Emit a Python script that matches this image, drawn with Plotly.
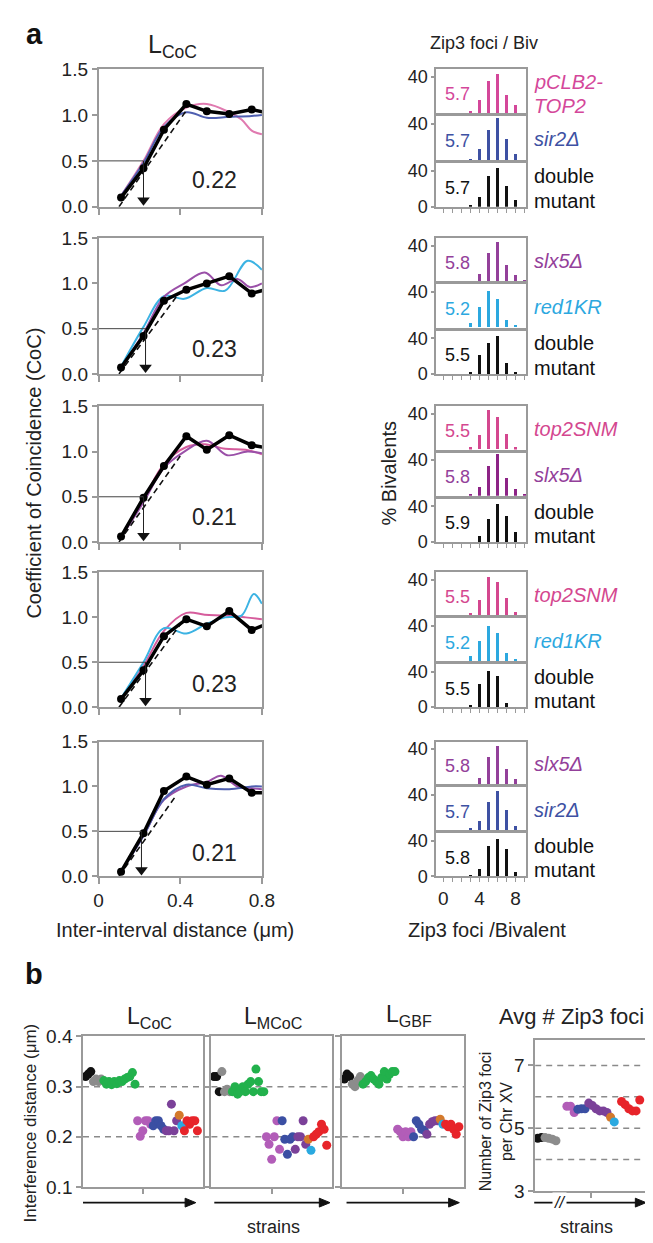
import plotly.graph_objects as go

W, H = 653, 1243
FONT = "Liberation Sans, Arial, sans-serif"

# ---------------- Panel a: CoC curves ----------------
coc_x = [0.11, 0.22, 0.32, 0.43, 0.53, 0.64, 0.75, 0.85]
coc_black = [
    [0.10, 0.42, 0.84, 1.12, 1.04, 1.01, 1.06, 1.01],
    [0.07, 0.42, 0.81, 0.93, 1.00, 1.08, 0.89, 0.95],
    [0.06, 0.49, 0.84, 1.17, 1.02, 1.18, 1.07, 1.03],
    [0.09, 0.41, 0.79, 0.98, 0.90, 1.07, 0.86, 0.95],
    [0.05, 0.48, 0.95, 1.11, 1.02, 1.09, 0.93, 0.93],
]
coc_single = [
    [("pCLB2-TOP2", [0.11, 0.22, 0.32, 0.43, 0.53, 0.64, 0.70, 0.75, 0.80],
      [0.12, 0.50, 0.90, 1.08, 1.12, 1.03, 0.95, 0.83, 0.79]),
     ("sir2Δ", [0.11, 0.22, 0.32, 0.43, 0.53, 0.64, 0.75, 0.80],
      [0.12, 0.48, 0.87, 1.03, 0.97, 0.98, 0.99, 1.00])],
    [("red1KR", [0.11, 0.22, 0.32, 0.42, 0.53, 0.62, 0.73, 0.80],
      [0.08, 0.52, 0.86, 0.83, 0.95, 0.92, 1.25, 1.15]),
     ("slx5Δ", [0.11, 0.22, 0.32, 0.42, 0.52, 0.60, 0.68, 0.74, 0.80],
      [0.07, 0.45, 0.85, 1.00, 1.12, 0.98, 1.05, 0.96, 1.00])],
    [("top2SNM", [0.11, 0.22, 0.32, 0.43, 0.52, 0.62, 0.72, 0.80],
      [0.06, 0.47, 0.86, 1.05, 1.08, 1.03, 1.02, 0.97]),
     ("slx5Δ", [0.11, 0.22, 0.32, 0.42, 0.53, 0.63, 0.73, 0.80],
      [0.05, 0.44, 0.82, 1.00, 1.12, 0.96, 1.00, 0.98])],
    [("top2SNM", [0.11, 0.22, 0.32, 0.43, 0.52, 0.62, 0.72, 0.80],
      [0.09, 0.46, 0.85, 1.05, 1.03, 1.02, 1.00, 0.98]),
     ("red1KR", [0.11, 0.22, 0.32, 0.43, 0.53, 0.62, 0.70, 0.76, 0.80],
      [0.10, 0.50, 0.88, 0.82, 0.93, 1.00, 1.02, 1.26, 1.15])],
    [("slx5Δ", [0.11, 0.22, 0.32, 0.43, 0.53, 0.60, 0.68, 0.75, 0.80],
      [0.05, 0.45, 0.85, 1.00, 1.05, 1.12, 1.00, 0.98, 0.97]),
     ("sir2Δ", [0.11, 0.22, 0.32, 0.43, 0.53, 0.64, 0.75, 0.80],
      [0.05, 0.45, 0.86, 1.02, 0.98, 0.97, 1.00, 1.00])],
]
coc_dash_x = [[0.10, 0.43], [0.10, 0.38], [0.10, 0.40], [0.10, 0.40], [0.10, 0.38]]
coc_dash_y = [[0.0, 1.05], [0.0, 0.85], [0.0, 0.95], [0.0, 0.92], [0.0, 0.90]]
coc_L = [0.22, 0.23, 0.22, 0.23, 0.21]
coc_L_text = ["0.22", "0.23", "0.21", "0.23", "0.21"]

# ---------------- Panel a: Zip3 histograms ----------------
hist_x = [3, 4, 5, 6, 7, 8, 9]
hist_labels = [["pCLB2-TOP2", "sir2Δ", "double mutant"],
               ["slx5Δ", "red1KR", "double mutant"],
               ["top2SNM", "slx5Δ", "double mutant"],
               ["top2SNM", "red1KR", "double mutant"],
               ["slx5Δ", "sir2Δ", "double mutant"]]
hist_means = [["5.7", "5.7", "5.7"], ["5.8", "5.2", "5.5"], ["5.5", "5.8", "5.9"],
              ["5.5", "5.2", "5.5"], ["5.8", "5.7", "5.8"]]
hist_vals = [
    [[2, 14, 35, 43, 20, 9, 0], [1, 12, 33, 46, 23, 6, 0], [2, 11, 34, 43, 23, 8, 0]],
    [[0, 8, 32, 44, 18, 6.5, 1], [5, 23, 41, 32, 8, 3, 0], [2.5, 22, 35, 43, 12.6, 2.5, 0]],
    [[2, 16, 44, 36, 17.6, 2, 0], [2, 10, 34, 47, 20, 8, 2.5], [0, 6.5, 26, 43, 30, 11, 0]],
    [[2, 16.6, 43, 37, 19, 3, 0], [5.4, 22, 40, 32, 9, 2.5, 0], [2, 26, 41, 35, 4, 0, 0]],
    [[0, 8, 32, 44, 18, 6.5, 1], [1.5, 10, 32, 44, 23, 4.3, 0], [1, 8, 34, 42, 30, 5, 0]],
]

# ---------------- Panel b ----------------
b_groups = ["black", "gray", "green", "magenta", "blue", "dpurple", "orange", "cyan", "red"]
b_counts = [3, 4, 13, 6, 5, 5, 1, 1, 6]
b_LCoC = [0.32, 0.325, 0.33,
          0.31, 0.315, 0.31, 0.315,
          0.312, 0.305, 0.31, 0.304, 0.31, 0.306, 0.312, 0.31, 0.315, 0.318, 0.32, 0.328, 0.305,
          0.232, 0.201, 0.212, 0.232, 0.232, 0.225,
          0.222, 0.232, 0.232, 0.222, 0.215,
          0.212, 0.212, 0.265, 0.212, 0.232,
          0.243, 0.222,
          0.212, 0.232, 0.225, 0.232, 0.232, 0.212]
b_LMCoC = [0.32, 0.32, 0.29,
           0.33, 0.29, 0.295, 0.29,
           0.29, 0.30, 0.285, 0.29, 0.30, 0.29, 0.305, 0.31, 0.29, 0.335, 0.31, 0.29, 0.29,
           0.20, 0.185, 0.155, 0.20, 0.232, 0.175,
           0.232, 0.195, 0.165, 0.195, 0.20,
           0.175, 0.20, 0.20, 0.232, 0.185,
           0.195, 0.173,
           0.20, 0.205, 0.21, 0.225, 0.215, 0.183]
b_LGBF = [0.315, 0.325, 0.32,
          0.305, 0.30, 0.312, 0.32,
          0.305, 0.31, 0.318, 0.322, 0.315, 0.31, 0.305, 0.318, 0.33, 0.315, 0.325, 0.33, 0.33,
          0.215, 0.21, 0.20, 0.21, 0.20, 0.21,
          0.20, 0.232, 0.225, 0.215, 0.213,
          0.205, 0.225, 0.23, 0.232, 0.232,
          0.235, 0.225,
          0.225, 0.22, 0.225, 0.215, 0.205, 0.22]
b_zip_groups = ["black", "gray", "magenta", "blue", "dpurple", "orange", "cyan", "red"]
b_zip_x = [[1, 2], [3, 4, 5, 6], [9, 10, 11], [12, 13, 14], [15, 16, 17, 18, 19, 20],
           [21], [22], [24, 25, 26, 27, 28, 29]]
b_zip_y = [[4.68, 4.70], [4.70, 4.68, 4.65, 4.60], [5.70, 5.70, 5.50], [5.60, 5.62, 5.62],
           [5.80, 5.72, 5.62, 5.55, 5.55, 5.50], [5.35], [5.20],
           [5.85, 5.75, 5.62, 5.55, 5.55, 5.90]]
b_ref_dist = [0.2, 0.3]
b_ref_zip = [4, 5, 6, 7]

# ---------------- styling ----------------
strain_text_col = {"pCLB2-TOP2": "#d4479a", "sir2Δ": "#3e51a3", "slx5Δ": "#93409a",
                   "red1KR": "#2ca8df", "top2SNM": "#d4478f", "double mutant": "#111111"}
strain_line_col = {"pCLB2-TOP2": "#e07ab0", "sir2Δ": "#4f5fb0", "slx5Δ": "#9a50a8",
                   "red1KR": "#3cb3e3", "top2SNM": "#d65c9c"}
dot_col = {"black": "#111111", "gray": "#8c8c8c", "green": "#22b14c", "magenta": "#b25db8",
           "blue": "#3b4fa3", "dpurple": "#7b4199", "orange": "#d4792b", "cyan": "#2aa9e0",
           "red": "#e7242a"}
FRAME = "#9a9a9a"
TXT = "#222222"

layout = {}
traces = []
annotations = []
shapes = []
n = [0]


def new_axes(xpx, ypx, xcfg, ycfg):
    n[0] += 1
    i = n[0]
    xa = "xaxis" if i == 1 else f"xaxis{i}"
    ya = "yaxis" if i == 1 else f"yaxis{i}"
    xr = "x" if i == 1 else f"x{i}"
    yr = "y" if i == 1 else f"y{i}"
    base = dict(showline=True, mirror=True, linecolor=FRAME, linewidth=1.5,
                zeroline=False, showgrid=False, fixedrange=True,
                tickfont=dict(family=FONT, size=19, color=TXT),
                tickcolor=FRAME, tickwidth=1.5)
    xd = dict(base); xd.update(xcfg)
    yd = dict(base); yd.update(ycfg)
    xd["domain"] = [xpx[0] / W, xpx[1] / W]
    yd["domain"] = [1 - ypx[1] / H, 1 - ypx[0] / H]
    xd["anchor"] = yr
    yd["anchor"] = xr
    layout[xa] = xd
    layout[ya] = yd
    return xr, yr


def text(px, py, s, size=20, color=TXT, xanchor="center", angle=0, **kw):
    annotations.append(dict(x=px / W, y=1 - py / H, xref="paper", yref="paper", text=s,
                            showarrow=False, xanchor=xanchor, yanchor="middle",
                            textangle=angle,
                            font=dict(family=FONT, size=size, color=color), **kw))


def paper_arrow(x0, x1, py):
    yy = 1 - py / H
    shapes.append(dict(type="line", xref="paper", yref="paper", x0=x0 / W, x1=(x1 - 8) / W,
                       y0=yy, y1=yy, line=dict(color="#111", width=1.6)))
    path = (f"M {(x1 - 11) / W},{1 - (py - 4.5) / H} L {x1 / W},{yy} "
            f"L {(x1 - 11) / W},{1 - (py + 4.5) / H} Z")
    shapes.append(dict(type="path", xref="paper", yref="paper", path=path,
                       fillcolor="#111", line=dict(color="#111", width=1)))


# ---- CoC plots ----
coc_top = [52, 224, 395, 564, 736]
coc_bot = [192, 362, 533, 701, 873]
for k in range(5):
    last = k == 4
    xr, yr = new_axes(
        (88, 256), (coc_top[k], coc_bot[k]),
        dict(range=[0, 0.8], tickvals=[0, 0.4, 0.8], ticktext=["0", "0.4", "0.8"],
             ticks="outside", ticklen=6, showticklabels=last),
        dict(range=[0, 1.5], tickvals=[0, 0.5, 1.0, 1.5],
             ticktext=["0.0", "0.5", "1.0", "1.5"], ticks="outside", ticklen=5))
    for strain, xs, ys in coc_single[k]:
        traces.append(go.Scatter(x=xs, y=ys, xaxis=xr, yaxis=yr, mode="lines",
                                 line=dict(color=strain_line_col[strain], width=2,
                                           shape="spline", smoothing=1.0)))
    traces.append(go.Scatter(x=coc_dash_x[k], y=coc_dash_y[k], xaxis=xr, yaxis=yr,
                             mode="lines", line=dict(color="#111", width=1.6, dash="6px,4px")))
    traces.append(go.Scatter(x=coc_x, y=coc_black[k], xaxis=xr, yaxis=yr, mode="lines+markers",
                             line=dict(color="#000", width=3.5),
                             marker=dict(color="#000", size=8)))
    L = coc_L[k]
    traces.append(go.Scatter(x=[0, L], y=[0.5, 0.5], xaxis=xr, yaxis=yr, mode="lines",
                             line=dict(color="#444", width=1)))
    traces.append(go.Scatter(x=[L, L], y=[0.5, 0.08], xaxis=xr, yaxis=yr, mode="lines",
                             line=dict(color="#222", width=1)))
    traces.append(go.Scatter(x=[L], y=[0.07], xaxis=xr, yaxis=yr, mode="markers",
                             cliponaxis=False,
                             marker=dict(symbol="triangle-down", color="#111", size=11)))
    text(207, coc_top[k] + 113, coc_L_text[k], size=23)

# ---- histograms ----
for g in range(5):
    T, B = coc_top[g], coc_bot[g]
    bh = (B - T - 6) / 3.0
    for j in range(3):
        top = T + j * (bh + 3)
        bot = top + bh
        bottom_box = j == 2
        xcfg = dict(range=[-0.8, 9.2], showticklabels=(g == 4 and bottom_box))
        if bottom_box:
            xcfg.update(tickmode="linear", tick0=0, dtick=4, ticks="outside", ticklen=4,
                        tickwidth=1,
                        minor=dict(tick0=0, dtick=1, ticks="outside", ticklen=4,
                                   tickwidth=1, tickcolor=FRAME, showgrid=False))
        else:
            xcfg.update(ticks="", tickvals=[])
        ycfg = dict(range=[0, 48.5], ticks="outside", ticklen=3,
                    tickvals=[0, 40] if bottom_box else [40],
                    tickfont=dict(family=FONT, size=18, color=TXT))
        xr, yr = new_axes((435, 528), (top, bot), xcfg, ycfg)
        strain = hist_labels[g][j]
        bar_col = strain_text_col[strain]
        if g == 2 and strain == "slx5Δ":
            bar_col = "#8d2386"
        traces.append(go.Bar(x=hist_x, y=hist_vals[g][j], xaxis=xr, yaxis=yr,
                             width=0.34, marker=dict(color=bar_col, line=dict(width=0))))
        text(457, top + bh * 0.57, hist_means[g][j], size=18, color=strain_text_col[strain])
        tc = strain_text_col[strain]
        if strain == "double mutant":
            text(534, top + 13, "double", size=20, color=tc, xanchor="left")
            text(534, bot - 6, "mutant", size=20, color=tc, xanchor="left")
        elif strain == "pCLB2-TOP2":
            text(534, top + 13, "<i>pCLB2-</i>", size=20, color=tc, xanchor="left")
            text(534, bot - 7, "<i>TOP2</i>", size=20, color=tc, xanchor="left")
        else:
            text(534, (top + bot) / 2 + 1, f"<i>{strain}</i>", size=20, color=tc, xanchor="left")

# ---- panel b ----
b_x = list(range(1, sum(b_counts) + 1))
b_panels = [(72, 195, b_LCoC, True), (204, 328, b_LMCoC, False), (338, 464, b_LGBF, False)]
for (x0, x1, vals, lab) in b_panels:
    xr, yr = new_axes((x0, x1), (1036, 1189),
                      dict(range=[0, 46], tickvals=[23], ticks="outside", ticklen=5,
                           showticklabels=False),
                      dict(range=[0.1, 0.4], tickvals=[0.1, 0.2, 0.3, 0.4], ticks="outside",
                           ticklen=5, showticklabels=lab))
    for v in b_ref_dist:
        shapes.append(dict(type="line", xref=f"{xr} domain", yref=yr, x0=0, x1=1, y0=v, y1=v,
                           line=dict(color="#8a8a8a", width=1.5, dash="6px,5px"), layer="below"))
    i0 = 0
    for gname, c in zip(b_groups, b_counts):
        traces.append(go.Scatter(x=b_x[i0:i0 + c], y=vals[i0:i0 + c], xaxis=xr, yaxis=yr,
                                 mode="markers", cliponaxis=False,
                                 marker=dict(color=dot_col[gname], size=9)))
        i0 += c

xr, yr = new_axes((537, 652), (1040, 1193),
                  dict(range=[0.3, 31], tickvals=[15.5], ticks="outside", ticklen=5,
                       showticklabels=False),
                  dict(range=[3, 7.8], tickvals=[3, 5, 7], ticks="outside", ticklen=5))
for v in b_ref_zip:
    shapes.append(dict(type="line", xref=f"{xr} domain", yref=yr, x0=0, x1=1, y0=v, y1=v,
                       line=dict(color="#8a8a8a", width=1.5, dash="6px,5px"), layer="below"))
for gname, xs, ys in zip(b_zip_groups, b_zip_x, b_zip_y):
    traces.append(go.Scatter(x=xs, y=ys, xaxis=xr, yaxis=yr, mode="markers", cliponaxis=False,
                             marker=dict(color=dot_col[gname], size=9)))

for (x0, x1) in [(72, 188), (207, 326), (343, 459), (536, 651)]:
    paper_arrow(x0, x1, 1205)
text(562, 1205, "<i>//</i>", size=16, color="#111", bgcolor="white")

# ---- titles / labels ----
text(22, 16, "<b>a</b>", size=29, color="#111")
text(164, 28, "L<sub>CoC</sub>", size=25)
text(484, 25, "Zip3 foci / Biv", size=18)
text(22, 463, "Coefficient of Coincidence (CoC)", size=20, angle=-90)
text(387, 463, "% Bivalents", size=20, angle=-90)
text(167, 928, "Inter-interval distance (μm)", size=20)
text(487, 928, "Zip3 foci /Bivalent", size=20)
text(22, 972, "<b>b</b>", size=29, color="#111")
text(140, 1017, "L<sub>CoC</sub>", size=23)
text(268, 1017, "L<sub>MCoC</sub>", size=23)
text(407, 1015, "L<sub>GBF</sub>", size=23)
text(574, 1016, "Avg # Zip3 foci", size=22)
text(18, 1124, "Interference distance (μm)", size=17, angle=-90)
text(497, 1122, "Number of Zip3 foci<br>per Chr XV", size=16, angle=-90)
text(268, 1230, "strains", size=18)
text(590, 1230, "strains", size=18)

fig = go.Figure(data=traces)
fig.update_layout(**layout)
fig.update_layout(width=W, height=H, margin=dict(l=0, r=0, t=0, b=0, pad=0),
                  paper_bgcolor="white", plot_bgcolor="white", showlegend=False,
                  bargap=0, annotations=annotations, shapes=shapes,
                  font=dict(family=FONT))
fig.write_html("out.html")
